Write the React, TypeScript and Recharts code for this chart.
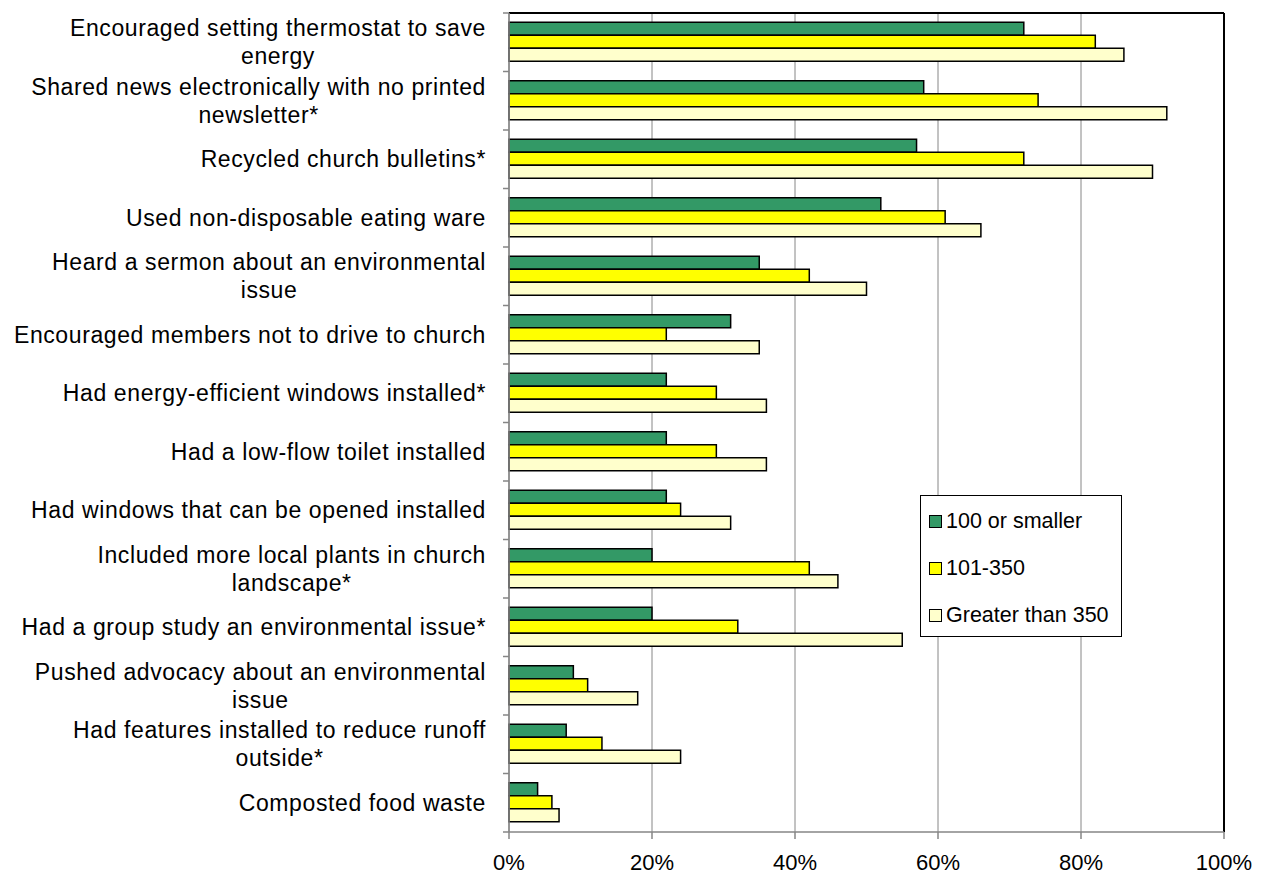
import React from 'react';
import { BarChart, Bar, XAxis, YAxis, CartesianGrid, Legend, ReferenceLine } from 'recharts';

const categories = [
  'Encouraged setting thermostat to save\nenergy',
  'Shared news electronically with no printed\nnewsletter*',
  'Recycled church bulletins*',
  'Used non-disposable eating ware',
  'Heard a sermon about an environmental\nissue',
  'Encouraged members not to drive to church',
  'Had energy-efficient windows installed*',
  'Had a low-flow toilet installed',
  'Had windows that can be opened installed',
  'Included more local plants in church\nlandscape*',
  'Had a group study an environmental issue*',
  'Pushed advocacy about an environmental\nissue',
  'Had features installed to reduce runoff\noutside*',
  'Composted food waste',
];

const small = [72, 58, 57, 52, 35, 31, 22, 22, 22, 20, 20, 9, 8, 4];
const medium = [82, 74, 72, 61, 42, 22, 29, 29, 24, 42, 32, 11, 13, 6];
const large = [86, 92, 90, 66, 50, 35, 36, 36, 31, 46, 55, 18, 24, 7];

const seriesNames = ['100 or smaller', '101-350', 'Greater than 350'];
const seriesKeys = ['small', 'medium', 'large'];
const seriesColors = ['#339966', '#FFFF00', '#FFFFCC'];
const xTicks = [0, 20, 40, 60, 80, 100];

const data = categories.map((c, i) => ({
  category: c,
  small: small[i],
  medium: medium[i],
  large: large[i],
}));

const FONT = '"Liberation Sans", Arial, Helvetica, sans-serif';
const LABEL_SIZE = 23;
const LABEL_LS = 0.6;
const AXIS_GRAY = '#868686';

let ctx: CanvasRenderingContext2D | null = null;
function measure(text: string): number {
  if (!ctx) ctx = document.createElement('canvas').getContext('2d');
  if (!ctx) return text.length * 11;
  ctx.font = `${LABEL_SIZE}px ${FONT}`;
  return ctx.measureText(text).width + LABEL_LS * text.length;
}

function CategoryTick(props: any) {
  const { x, y, payload, index } = props;
  const half = payload && typeof payload.offset === 'number' && payload.offset > 0 ? payload.offset : 29.25;
  const lines = String(payload.value).split('\n');
  const rightX = x - 23;
  const lh = 27.7;
  const n = lines.length;
  const w = Math.max(...lines.map(measure));
  const cx = rightX - w / 2;
  return (
    <g>
      <line x1={x - 6} x2={x} y1={y - half} y2={y - half} stroke={AXIS_GRAY} strokeWidth={1.5} />
      {index === categories.length - 1 && (
        <line x1={x - 6} x2={x} y1={y + half} y2={y + half} stroke={AXIS_GRAY} strokeWidth={1.5} />
      )}
      {lines.map((ln, i) => (
        <text
          key={i}
          x={n > 1 ? cx : rightX}
          y={y + 8 + (i - (n - 1) / 2) * lh}
          textAnchor={n > 1 ? 'middle' : 'end'}
          fontFamily={FONT}
          fontSize={LABEL_SIZE}
          letterSpacing={LABEL_LS}
          fill="#000"
        >
          {ln}
        </text>
      ))}
    </g>
  );
}

function LegendBox() {
  return (
    <div
      style={{
        width: 202,
        height: 142,
        border: '1.5px solid #000',
        background: '#fff',
        boxSizing: 'border-box',
        position: 'relative',
        fontFamily: FONT,
        fontSize: 21.5,
        color: '#000',
      }}
    >
      {seriesNames.map((name, i) => (
        <div key={name} style={{ position: 'absolute', left: 8, top: 25 + i * 47 - 13, height: 26, display: 'flex', alignItems: 'center', whiteSpace: 'nowrap' }}>
          <span
            style={{
              display: 'inline-block',
              width: 11,
              height: 11,
              background: seriesColors[i],
              border: '1.5px solid #000',
              marginRight: 4,
            }}
          />
          <span>{name}</span>
        </div>
      ))}
    </div>
  );
}

export default function App() {
  return (
    <div style={{ position: 'absolute', left: 0, top: 0, width: 1267, height: 878, background: '#fff' }}>
      <BarChart
        width={1267}
        height={878}
        data={data}
        layout="vertical"
        margin={{ top: 13, right: 43, bottom: 0, left: 0 }}
        barCategoryGap="16%"
        barGap={0}
      >
        <CartesianGrid horizontal={false} stroke={AXIS_GRAY} strokeWidth={1} />
        <XAxis
          type="number"
          domain={[0, 100]}
          ticks={xTicks}
          interval={0}
          tickFormatter={(v: number) => `${v}%`}
          axisLine={{ stroke: AXIS_GRAY, strokeWidth: 1.5 }}
          tickLine={{ stroke: AXIS_GRAY, strokeWidth: 1.5 }}
          tickSize={7}
          tickMargin={15}
          height={46}
          tick={{ fontFamily: FONT, fontSize: 22, fill: '#000' }}
        />
        <YAxis
          type="category"
          dataKey="category"
          width={509}
          interval={0}
          tickSize={0}
          tickMargin={0}
          tickLine={false}
          axisLine={{ stroke: AXIS_GRAY, strokeWidth: 1.5 }}
          tick={<CategoryTick />}
        />
        <ReferenceLine x={100} stroke="#000" strokeWidth={2} ifOverflow="visible" />
        <ReferenceLine y={categories[0]} position="start" stroke="#000" strokeWidth={2} ifOverflow="visible" />
        {seriesKeys.map((k, i) => (
          <Bar
            key={k}
            dataKey={k}
            name={seriesNames[i]}
            fill={seriesColors[i]}
            stroke="#000"
            strokeWidth={1.5}
            isAnimationActive={false}
          />
        ))}
        <Legend
          layout="vertical"
          align="center"
          verticalAlign="middle"
          wrapperStyle={{ position: 'absolute', left: 920, top: 495, width: 202, height: 142 }}
          content={<LegendBox />}
        />
      </BarChart>
    </div>
  );
}
